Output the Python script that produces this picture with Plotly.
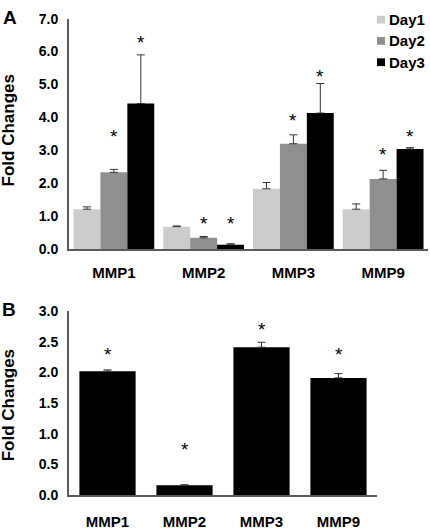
import plotly.graph_objects as go

W, H = 430, 530

# ---------------- data ----------------
genes = ["MMP1", "MMP2", "MMP3", "MMP9"]
days = ["Day1", "Day2", "Day3"]
day_colors = ["#cccccc", "#8f8f8f", "#000000"]

a_day1 = [1.21, 0.68, 1.83, 1.21]
a_day1_err = [0.07, 0.02, 0.19, 0.16]
a_day2 = [2.33, 0.34, 3.20, 2.13]
a_day2_err = [0.09, 0.04, 0.27, 0.26]
a_day3 = [4.42, 0.13, 4.13, 3.04]
a_day3_err = [1.48, 0.03, 0.90, 0.04]
# asterisk heights (None = no asterisk)
a_day1_star = [None, None, None, None]
a_day2_star = [3.44, 0.81, 3.95, 2.90]
a_day3_star = [6.32, 0.81, 5.28, 3.44]

b_vals = [2.02, 0.16, 2.41, 1.91]
b_err = [0.02, 0.01, 0.08, 0.07]
b_star = [2.35, 0.81, 2.77, 2.35]

a_yticks = [0, 1, 2, 3, 4, 5, 6, 7]
b_yticks = [0, 0.5, 1.0, 1.5, 2.0, 2.5, 3.0]

FONT = "Liberation Sans, Arial, sans-serif"
AXC = "#5a5a5a"

fig = go.Figure()

a_series = [(a_day1, a_day1_err, a_day1_star),
            (a_day2, a_day2_err, a_day2_star),
            (a_day3, a_day3_err, a_day3_star)]

for i, (vals, errs, stars) in enumerate(a_series):
    fig.add_trace(go.Bar(
        x=genes, y=vals, name=days[i], marker=dict(color=day_colors[i], line=dict(width=0)),
        error_y=dict(type="data", array=errs, arrayminus=[0] * len(errs), symmetric=False,
                     color="#333333", thickness=1, width=4),
        xaxis="x", yaxis="y", showlegend=False, offsetgroup=str(i),
    ))

fig.add_trace(go.Bar(
    x=genes, y=b_vals, marker=dict(color="#000000", line=dict(width=0)),
    error_y=dict(type="data", array=b_err, arrayminus=[0] * len(b_err), symmetric=False,
                 color="#333333", thickness=1, width=4),
    xaxis="x2", yaxis="y2", showlegend=False, width=0.73,
))

annotations = []
bw = 0.9 / 3
for i, (_, _, stars) in enumerate(a_series):
    for j, s in enumerate(stars):
        if s is None:
            continue
        annotations.append(dict(x=j + (i - 1) * bw, y=s, xref="x", yref="y", text="*",
                                showarrow=False, font=dict(family=FONT, size=19, color="#000"),
                                yanchor="middle", yshift=-1))
for j, s in enumerate(b_star):
    annotations.append(dict(x=j, y=s, xref="x2", yref="y2", text="*", showarrow=False,
                            font=dict(family=FONT, size=19, color="#000"),
                            yanchor="middle", yshift=-4))

for yc in [1 - 126.5 / H, 1 - 410.5 / H]:
    annotations.append(dict(x=8 / W, y=yc, xref="paper", yref="paper", text="Fold Changes",
                            textangle=-90, showarrow=False, xanchor="center", yanchor="middle",
                            font=dict(family=FONT, size=17, color="#000", weight="bold")))
annotations.append(dict(x=1 / W, y=1 - 10 / H, xref="paper", yref="paper", text="A", showarrow=False,
                        xanchor="left", yanchor="middle",
                        font=dict(family=FONT, size=19, color="#000", weight="bold")))
annotations.append(dict(x=0 / W, y=1 - 312 / H, xref="paper", yref="paper", text="B", showarrow=False,
                        xanchor="left", yanchor="middle",
                        font=dict(family=FONT, size=19, color="#000", weight="bold")))

shapes = []
leg_y = [12, 34, 56]
for i, d in enumerate(days):
    yc = leg_y[i]
    shapes.append(dict(type="rect", xref="paper", yref="paper",
                       x0=377 / W, x1=385 / W, y0=1 - (yc + 4) / H, y1=1 - (yc - 4) / H,
                       fillcolor=day_colors[i], line=dict(width=0)))
    annotations.append(dict(x=387 / W, y=1 - yc / H, xref="paper", yref="paper", text=d,
                            showarrow=False, xanchor="left", yanchor="middle",
                            font=dict(family=FONT, size=15, color="#000", weight="bold")))

xtickfont = dict(family=FONT, size=15, color="#000", weight="bold")
ytickfont = dict(family=FONT, size=14, color="#000", weight="bold")

fig.update_layout(
    width=W, height=H, margin=dict(l=0, r=0, t=0, b=0),
    paper_bgcolor="white", plot_bgcolor="white",
    barmode="group", bargap=0.1, bargroupgap=0,
    showlegend=False,
    xaxis=dict(domain=[69 / W, 428 / W], anchor="y", range=[-0.5, 3.5],
               showline=True, linecolor=AXC, linewidth=2, ticks="", showgrid=False,
               tickfont=xtickfont, ticklabelstandoff=9),
    yaxis=dict(domain=[1 - 249 / H, 1 - 11 / H], anchor="x", range=[0, 7],
               tickvals=a_yticks, tickformat=".1f",
               showline=True, linecolor=AXC, linewidth=2, ticks="", showgrid=False, zeroline=False,
               tickfont=ytickfont, ticklabelstandoff=6),
    xaxis2=dict(domain=[69 / W, 377 / W], anchor="y2", range=[-0.5, 3.5],
                showline=True, linecolor=AXC, linewidth=2, ticks="", showgrid=False,
                tickfont=xtickfont, ticklabelstandoff=12),
    yaxis2=dict(domain=[1 - 503.3 / H, 1 - 313 / H], anchor="x2", range=[0, 3],
                tickvals=b_yticks, tickformat=".1f",
                showline=True, linecolor=AXC, linewidth=2, ticks="", showgrid=False, zeroline=False,
                tickfont=ytickfont, ticklabelstandoff=6),
    annotations=annotations, shapes=shapes,
)

fig.write_html("out.html", config={"displayModeBar": False},
               post_script="document.body.style.margin='0';document.body.style.overflow='hidden';")
